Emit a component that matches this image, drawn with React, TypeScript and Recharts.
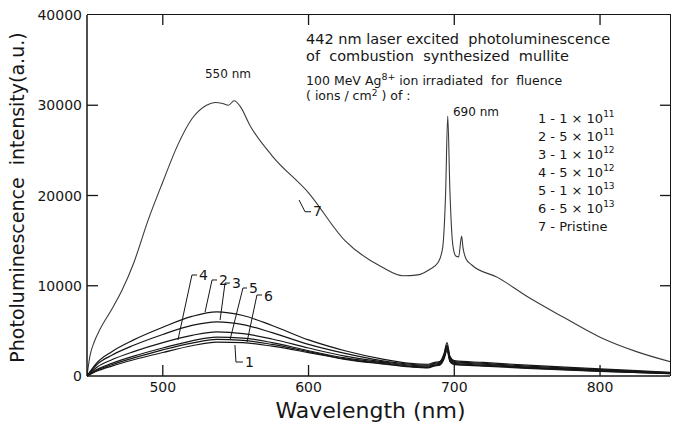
import { LineChart, Line, XAxis, YAxis, ReferenceLine, ReferenceDot } from "recharts";

const FONT = '"DejaVu Sans", sans-serif';
const INK = "#161616";

// axis ticks
const xTicks = [500, 600, 700, 800];
const yTicks = [0, 10000, 20000, 30000, 40000];
const X_MIN = 448;
const X_MAX = 848;
const Y_MAX = 40000;

// chart box
const W = 673;
const H = 423;
const M_TOP = 15;
const M_RIGHT = 3;
const Y_AXIS_W = 87;
const X_AXIS_H = 47;
const PLOT_RIGHT = W - M_RIGHT;
const PLOT_BOTTOM = H - X_AXIS_H;

// curve 7 - pristine
const pristineWl = [448, 450, 453, 457, 465, 472, 480, 490, 500, 510, 520, 530, 536, 541, 545, 549, 553, 560, 575, 600, 625, 650, 665, 675, 683, 689, 692, 694, 695.5, 697, 699, 701, 703, 705, 706, 708, 712, 730, 750, 775, 800, 825, 850];
const pristine = [0, 2200, 3800, 5200, 7400, 9500, 12500, 17300, 21500, 25500, 28500, 30000, 30300, 30200, 30000, 30500, 29900, 27700, 24400, 20300, 15000, 12100, 11100, 11200, 11800, 12600, 14200, 20000, 28800, 20500, 14500, 13300, 13200, 15500, 14200, 13000, 12300, 10900, 8800, 6500, 4300, 2700, 1500];

// curves 1-6 - irradiated samples
const lowWl = [448, 455, 465, 480, 500, 520, 537, 555, 575, 600, 625, 650, 670, 682, 686, 690, 693, 695, 697, 700, 720, 750, 800, 850];
const fluence1 = [0, 550, 1100, 1800, 2600, 3350, 3750, 3700, 3300, 2600, 1850, 1350, 1000, 900, 1100, 1200, 1900, 2800, 1600, 1250, 1100, 850, 500, 250];
const fluence2 = [0, 1500, 2700, 4000, 5400, 6600, 7100, 6700, 5600, 4000, 2800, 1900, 1400, 1300, 1500, 1600, 2500, 3700, 2200, 1700, 1500, 1200, 800, 400];
const fluence3 = [0, 1300, 2300, 3400, 4600, 5600, 6000, 5700, 4800, 3500, 2500, 1700, 1300, 1200, 1400, 1500, 2400, 3400, 2100, 1600, 1400, 1100, 700, 350];
const fluence4 = [0, 1000, 1800, 2700, 3700, 4500, 4900, 4700, 4100, 3100, 2200, 1600, 1200, 1100, 1300, 1400, 2200, 3100, 1900, 1500, 1300, 1000, 650, 300];
const fluence5 = [0, 750, 1400, 2200, 3100, 3900, 4300, 4200, 3700, 2800, 2000, 1500, 1100, 1000, 1200, 1300, 2100, 3300, 1800, 1400, 1200, 950, 600, 300];
const fluence6 = [0, 650, 1250, 2000, 2900, 3650, 4050, 3950, 3500, 2700, 1900, 1400, 1050, 950, 1150, 1250, 2000, 3000, 1700, 1300, 1150, 900, 550, 250];

const legendNums = ["1", "2", "3", "4", "5", "6"];
const legendMant = ["1", "5", "1", "5", "1", "5"];
const legendExp = ["11", "11", "12", "12", "13", "13"];

const toRows = (wl: number[], vals: number[]) => wl.map((x, i) => ({ x, y: vals[i] }));

const series = [
  { key: "c7", rows: toRows(pristineWl, pristine), stroke: "#3a3a3a", w: 1.1 },
  { key: "c1", rows: toRows(lowWl, fluence1), stroke: INK, w: 1.2 },
  { key: "c6", rows: toRows(lowWl, fluence6), stroke: INK, w: 1.2 },
  { key: "c5", rows: toRows(lowWl, fluence5), stroke: INK, w: 1.2 },
  { key: "c4", rows: toRows(lowWl, fluence4), stroke: INK, w: 1.2 },
  { key: "c3", rows: toRows(lowWl, fluence3), stroke: INK, w: 1.2 },
  { key: "c2", rows: toRows(lowWl, fluence2), stroke: INK, w: 1.2 },
];

// leader lines for the curve numbers (data coordinates)
const leaders = [
  { label: "4", pts: [[510.4, 3990], [520, 11190], [523.5, 11190]], at: [524.8, 10640] },
  { label: "2", pts: [[529, 7090], [533.8, 10640], [537.2, 10640]], at: [538.6, 10080] },
  { label: "3", pts: [[539.3, 6200], [542.7, 10300], [546.1, 10300]], at: [547.5, 9750] },
  { label: "5", pts: [[546.1, 3990], [555, 9750], [557.8, 9750]], at: [559.2, 9200] },
  { label: "6", pts: [[557.8, 3770], [564.6, 8975], [568.1, 8975]], at: [569.4, 8310] },
  { label: "1", pts: [[549.5, 3430], [550.2, 1550], [555, 1550]], at: [556.4, 1000] },
  { label: "7", pts: [[593.5, 19500], [597.6, 18200], [601.7, 18200]], at: [603.1, 17730] },
];

const txt = { fontFamily: FONT, fill: INK, whiteSpace: "pre" as const };

// bottom ticks point up into the plot; the matching top tick is drawn with it
const BottomTick = (p: any) => (
  <g>
    <line x1={p.x} y1={p.y} x2={p.x} y2={p.y - 11} stroke={INK} strokeWidth={1.3} />
    <line x1={p.x} y1={M_TOP} x2={p.x} y2={M_TOP + 10} stroke={INK} strokeWidth={1.3} />
    <text x={p.x} y={p.y + 16} textAnchor="middle" fontSize={14} style={txt}>{p.payload.value}</text>
  </g>
);

// left ticks point right; the mirrored right tick points left
const LeftTick = (p: any) => {
  const v = p.payload.value;
  return (
    <g>
      {v > 0 && v < Y_MAX && (
        <g>
          <line x1={p.x} y1={p.y} x2={p.x + 11} y2={p.y} stroke={INK} strokeWidth={1.3} />
          <line x1={PLOT_RIGHT} y1={p.y} x2={PLOT_RIGHT - 10} y2={p.y} stroke={INK} strokeWidth={1.3} />
        </g>
      )}
      <text x={p.x - 5} y={p.y + 5} textAnchor="end" fontSize={14} style={txt}>{v}</text>
    </g>
  );
};

const xLabel = (p: any) => {
  const vb = p.viewBox;
  return (
    <text x={vb.x + vb.width / 2 - 8} y={vb.y + 42} textAnchor="middle" fontSize={22} style={txt}>
      Wavelength (nm)
    </text>
  );
};

const yLabel = (p: any) => {
  const vb = p.viewBox;
  const cx = vb.x + 17;
  const cy = vb.y + vb.height / 2 + 2;
  return (
    <text x={cx} y={cy} transform={`rotate(-90 ${cx} ${cy})`} textAnchor="middle" dominantBaseline="central" fontSize={19} style={txt}>
      Photoluminescence  intensity(a.u.)
    </text>
  );
};

const TitleBlock = (p: any) => (
  <g fontSize={14.5} style={txt}>
    <text x={p.cx} y={p.cy} style={txt}>442 nm laser excited  photoluminescence</text>
    <text x={p.cx} y={p.cy + 17} style={txt}>of  combustion  synthesized  mullite</text>
    <text x={p.cx} y={p.cy + 41} fontSize={12.5} style={txt}>
      100 MeV Ag<tspan dy={-5} fontSize={9.5}>8+</tspan><tspan dy={5}> ion irradiated  for  fluence</tspan>
    </text>
    <text x={p.cx} y={p.cy + 56} fontSize={12.5} style={txt}>
      ( ions / cm<tspan dy={-4} fontSize={9}>2</tspan><tspan dy={4}> ) of :</tspan>
    </text>
  </g>
);

const LegendBlock = (p: any) => (
  <g>
    {legendNums.map((n, i) => (
      <text key={n} x={p.cx} y={p.cy + i * 18} fontSize={13} style={txt}>
        {`${n} - ${legendMant[i]} × 10`}
        <tspan dy={-6} fontSize={9}>{legendExp[i]}</tspan>
      </text>
    ))}
    <text x={p.cx} y={p.cy + 6 * 18} fontSize={13} style={txt}>7 - Pristine</text>
  </g>
);

const plainText = (s: string, size: number, anchor: "start" | "middle" = "start") => (p: any) => (
  <text x={p.cx} y={p.cy} fontSize={size} textAnchor={anchor} style={txt}>{s}</text>
);

export default function App() {
  return (
    <div style={{ position: "relative", width: W, height: H, background: "#fff" }}>
      <style>{"body{margin:0}"}</style>
      <LineChart width={W} height={H} margin={{ top: M_TOP, right: M_RIGHT, bottom: 0, left: 0 }}>
        <XAxis
          xAxisId="b"
          type="number"
          dataKey="x"
          domain={[X_MIN, X_MAX]}
          allowDataOverflow
          ticks={xTicks}
          interval={0}
          height={X_AXIS_H}
          tickSize={0}
          tickMargin={0}
          tickLine={false}
          axisLine={{ stroke: INK, strokeWidth: 1.5 }}
          tick={(p: any) => <BottomTick {...p} />}
          label={xLabel}
        />
        <YAxis
          yAxisId="l"
          type="number"
          domain={[0, Y_MAX]}
          ticks={yTicks}
          interval={0}
          width={Y_AXIS_W}
          tickSize={0}
          tickMargin={0}
          tickLine={false}
          axisLine={{ stroke: INK, strokeWidth: 1.5 }}
          tick={(p: any) => <LeftTick {...p} />}
          label={yLabel}
        />
        {series.map((s) => (
          <Line
            key={s.key}
            xAxisId="b"
            yAxisId="l"
            data={s.rows}
            dataKey="y"
            type="monotone"
            stroke={s.stroke}
            strokeWidth={s.w}
            dot={false}
            isAnimationActive={false}
          />
        ))}
        {leaders.map((l) =>
          l.pts.slice(1).map((pt, i) => (
            <ReferenceLine
              key={`${l.label}-${i}`}
              xAxisId="b"
              yAxisId="l"
              segment={[
                { x: l.pts[i][0], y: l.pts[i][1] },
                { x: pt[0], y: pt[1] },
              ]}
              stroke={INK}
              strokeWidth={1}
              ifOverflow="visible"
            />
          ))
        )}
        {leaders.map((l) => (
          <ReferenceDot
            key={`t-${l.label}`}
            xAxisId="b"
            yAxisId="l"
            x={l.at[0]}
            y={l.at[1]}
            r={0}
            ifOverflow="visible"
            shape={plainText(l.label, 14)}
          />
        ))}
        <ReferenceDot xAxisId="b" yAxisId="l" x={598.3} y={36790} r={0} ifOverflow="visible" shape={(p: any) => <TitleBlock {...p} />} />
        <ReferenceDot xAxisId="b" yAxisId="l" x={757.4} y={28030} r={0} ifOverflow="visible" shape={(p: any) => <LegendBlock {...p} />} />
        <ReferenceDot xAxisId="b" yAxisId="l" x={544.7} y={33020} r={0} ifOverflow="visible" shape={plainText("550 nm", 12, "middle")} />
        <ReferenceDot xAxisId="b" yAxisId="l" x={699.1} y={28800} r={0} ifOverflow="visible" shape={plainText("690 nm", 12)} />
      </LineChart>
      {/* top and right sides of the plot box */}
      <div
        style={{
          position: "absolute",
          left: Y_AXIS_W,
          top: M_TOP - 0.75,
          width: PLOT_RIGHT - Y_AXIS_W + 0.75,
          height: PLOT_BOTTOM - M_TOP + 0.75,
          boxSizing: "border-box",
          borderTop: `1.5px solid ${INK}`,
          borderRight: `1.5px solid ${INK}`,
          pointerEvents: "none",
        }}
      />
    </div>
  );
}
